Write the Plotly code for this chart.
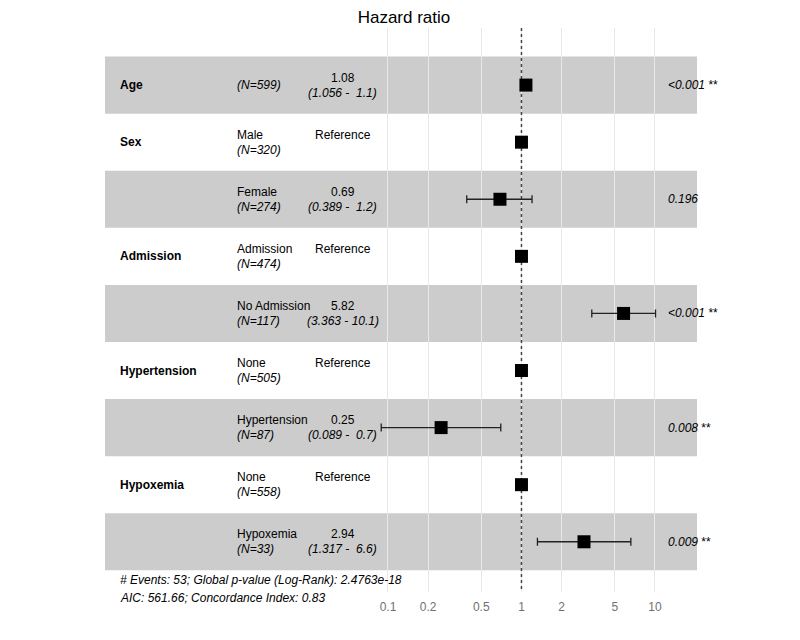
import plotly.graph_objects as go

# forest plot data (Cox model)
variables = ["Age", "Sex", "", "Admission", "", "Hypertension", "", "Hypoxemia", ""]
levels = ["", "Male", "Female", "Admission", "No Admission", "None", "Hypertension", "None", "Hypoxemia"]
n_obs = [599, 320, 274, 474, 117, 505, 87, 558, 33]
hr = [1.08, 1, 0.69, 1, 5.82, 1, 0.25, 1, 2.94]
ci_low = [1.056, None, 0.389, None, 3.363, None, 0.089, None, 1.317]
ci_high = [1.1, None, 1.2, None, 10.1, None, 0.7, None, 6.6]
hr_labels = ["1.08", "Reference", "0.69", "Reference", "5.82", "Reference", "0.25", "Reference", "2.94"]
ci_labels = ["(1.056 -  1.1)", "", "(0.389 -  1.2)", "", "(3.363 - 10.1)", "", "(0.089 -  0.7)", "", "(1.317 -  6.6)"]
p_values = ["<0.001", "", "0.196", "", "<0.001", "", "0.008", "", "0.009"]
stars = ["**", "", "", "", "**", "", "**", "", "**"]
tick_vals = [0.1, 0.2, 0.5, 1, 2, 5, 10]
footer = ["# Events: 53; Global p-value (Log-Rank): 2.4763e-18",
          "AIC: 561.66; Concordance Index: 0.83"]

rows = list(range(1, len(hr) + 1))
y_top, y_bottom = 0.0, 9.88
FONT = "Arial, Liberation Sans, sans-serif"

err_plus = [(h - v) if h is not None else 0 for h, v in zip(ci_high, hr)]
err_minus = [(v - l) if l is not None else 0 for l, v in zip(ci_low, hr)]

fig = go.Figure()

# reference line at HR = 1
fig.add_trace(go.Scatter(
    x=[1, 1], y=[y_top, y_bottom], mode="lines",
    line=dict(color="#444444", width=1.5, dash="dot"),
    hoverinfo="skip", showlegend=False,
))

fig.add_trace(go.Scatter(
    x=hr, y=rows, mode="markers",
    marker=dict(symbol="square", size=13, color="black"),
    error_x=dict(type="data", symmetric=False, array=err_plus, arrayminus=err_minus,
                 color="#222222", thickness=1.3, width=4),
    showlegend=False,
))

# alternating grey bands
for r in rows:
    if r % 2 == 1:
        fig.add_shape(type="rect", xref="paper", yref="y", x0=0, x1=1,
                      y0=r - 0.5, y1=r + 0.5, fillcolor="#cccccc",
                      line_width=0, layer="below")

ann = []
dy = 7.5
for r, var, lev, n, hl, cl, p, s in zip(rows, variables, levels, n_obs, hr_labels,
                                        ci_labels, p_values, stars):
    base = dict(xref="paper", yref="y", y=r, showarrow=False,
                font=dict(family=FONT, size=12, color="black"), yanchor="middle")
    if var:
        ann.append(dict(base, x=0.022, xanchor="left", text=f"<b>{var}</b>"))
    if lev:
        ann.append(dict(base, x=0.2196, xanchor="left", text=lev, yshift=dy))
        ann.append(dict(base, x=0.2196, xanchor="left", text=f"<i>(N={n})</i>", yshift=-dy))
    else:
        ann.append(dict(base, x=0.2196, xanchor="left", text=f"<i>(N={n})</i>"))
    ann.append(dict(base, x=0.402, xanchor="center", text=hl, yshift=dy))
    if cl:
        ann.append(dict(base, x=0.402, xanchor="center", text=f"<i>{cl}</i>", yshift=-dy))
    if p:
        label = f"<i>{p}</i> {s}" if s else f"<i>{p}</i>"
        ann.append(dict(base, x=0.9476, xanchor="left", text=label))

for i, line in enumerate(footer):
    ann.append(dict(xref="paper", yref="paper", x=0.022, y=0.0213 - i * 0.032,
                    xanchor="left", yanchor="middle", showarrow=False,
                    text=f"<i>{line}</i>", font=dict(family=FONT, size=12, color="black")))

# page body has an 8px margin, so the figure is a bit smaller than the window
fig.update_layout(
    width=792, height=632,
    margin=dict(l=97, r=103, t=20, b=48),
    paper_bgcolor="white", plot_bgcolor="white",
    title=dict(text="Hazard ratio", x=0.5, xanchor="center", y=0.985, yanchor="middle",
               font=dict(family=FONT, size=17, color="black")),
    annotations=ann,
    font=dict(family=FONT, color="black"),
    showlegend=False,
)
fig.update_xaxes(
    type="log", range=[-3.12, 1.315], tickvals=tick_vals,
    ticktext=[str(t) for t in tick_vals],
    showgrid=True, gridcolor="#e8e8e8", gridwidth=1, zeroline=False, showline=False,
    ticks="", ticklabelstandoff=6, tickfont=dict(family=FONT, size=12, color="#707070"),
)
fig.update_yaxes(
    range=[y_bottom, y_top], visible=False, showgrid=False, zeroline=False,
)

fig.write_html("out.html")
